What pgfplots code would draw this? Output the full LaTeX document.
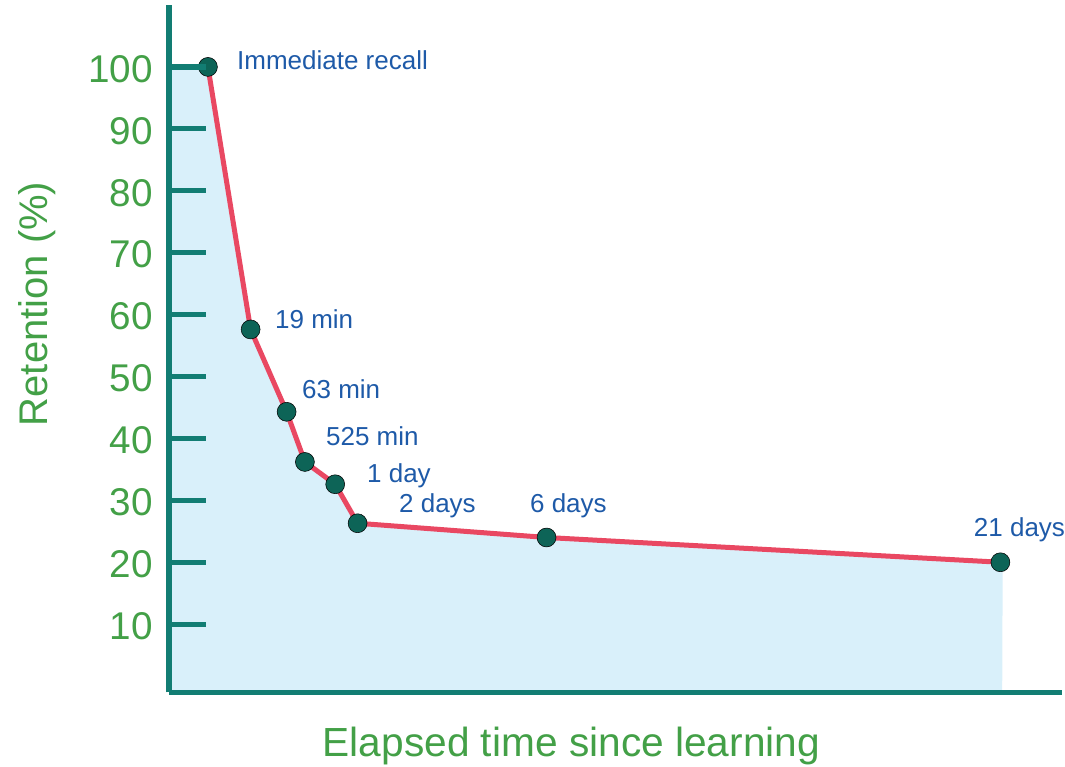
\documentclass[border=0pt]{standalone}
\usepackage{fontspec}
\setmainfont{Liberation Sans}
\usepackage{pgfplots}
\pgfplotsset{compat=1.18}
\definecolor{axteal}{HTML}{127D73}
\definecolor{markteal}{HTML}{0D6457}
\definecolor{redline}{HTML}{E94862}
\definecolor{fillblue}{HTML}{D9F0FA}
\definecolor{ticgreen}{HTML}{43A047}
\definecolor{labelblue}{HTML}{1E5AA8}
\begin{document}
\begin{tikzpicture}
\begin{axis}[
  at={(126.75pt,55.875pt)}, anchor=south west,
  scale only axis, width=669.75pt, height=515.625pt,
  xmin=169, xmax=1062, ymin=-1, ymax=110,
  clip=false,
  set layers, axis on top,
  axis x line=bottom, axis y line=left,
  axis line style={-, draw=axteal, line width=3.9pt},
  xtick=\empty,
  ytick={10,20,...,100},
  tick align=inside,
  major tick length=27.5pt,
  tick style={draw=axteal, line width=3.9pt},
  /pgf/number format/assume math mode=true,
  yticklabel style={font=\fontsize{29}{29}\selectfont, text=ticgreen, anchor=east, inner sep=0pt, xshift=-12pt, yshift=-1.5pt},
  xlabel={Elapsed time since learning},
  xlabel style={at={(axis description cs:0.4508,-0.0938)}, anchor=base, font=\fontsize{30.5}{30.5}\selectfont, text=ticgreen, inner sep=0pt},
  ylabel={Retention (\%)},
  ylabel style={at={(axis description cs:-0.1365,0.565)}, anchor=base, font=\fontsize{30}{30}\selectfont, text=ticgreen, inner sep=0pt},
]
\addplot[fill=fillblue, draw=none, forget plot] coordinates {
  (169,-1) (169,100) (208,100) (250.7,57.6) (286.7,44.3) (305,36.2)
  (335.3,32.6) (357.7,26.3) (546.7,24.0) (1000.7,20.0) (1003,20.0) (1002.5,-1)};
\addplot[draw=redline, line width=3.75pt, line join=round, forget plot] coordinates {
  (208,100) (250.7,57.6) (286.7,44.3) (305,36.2)
  (335.3,32.6) (357.7,26.3) (546.7,24.0) (1000.7,20.0)};
\addplot[on layer=axis foreground, only marks, mark=*, mark size=7.1pt, mark options={fill=markteal, draw=none}, forget plot] coordinates {
  (208,100) (250.7,57.6) (286.7,44.3) (305,36.2)
  (335.3,32.6) (357.7,26.3) (546.7,24.0) (1000.7,20.0)};
\begin{scope}[every node/.style={anchor=base west, inner sep=0pt, font=\fontsize{19.5}{19.5}\selectfont, text=labelblue}]
\node at (axis cs:237,99.6) {Immediate recall};
\node at (axis cs:275,57.68) {19 min};
\node at (axis cs:302,46.39) {63 min};
\node at (axis cs:326,38.80) {525 min};
\node at (axis cs:367,32.83) {1 day};
\node at (axis cs:399,27.99) {2 days};
\node at (axis cs:530,27.99) {6 days};
\node at (axis cs:974,24.12) {21 days};
\end{scope}
\end{axis}
\path (0,0) rectangle (798.75pt,575.25pt);
\end{tikzpicture}
\end{document}
